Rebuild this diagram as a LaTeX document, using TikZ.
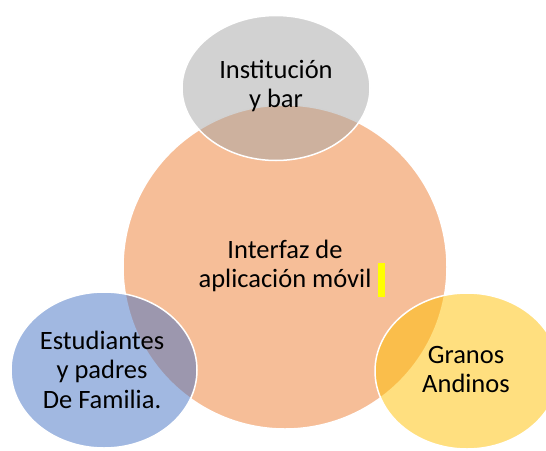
\documentclass[tikz,border=0pt]{standalone}
\usepackage{fontspec}
\setmainfont{Carlito}
\usetikzlibrary{shapes.geometric}
\definecolor{orangeA}{HTML}{ED7D31}
\definecolor{grayA}{HTML}{A5A5A5}
\definecolor{blueA}{HTML}{4472C4}
\definecolor{goldA}{HTML}{FFC000}
\definecolor{markY}{HTML}{FFFF00}
\begin{document}
\begin{tikzpicture}[x=1pt,y=-1pt,
  venn/.style={ellipse, draw=white, line width=1.5pt, fill opacity=0.5, inner sep=0pt},
  lbl/.style={align=center, font=\fontsize{26.5}{29.5}\selectfont, text=black, inner sep=0pt}]
\useasboundingbox (0,0) rectangle (546,450);
\node[venn, fill=orangeA, minimum width=324pt, minimum height=324pt] (app) at (285,267) {};
\node[venn, fill=grayA, minimum width=188pt, minimum height=145pt] (inst) at (276,88) {};
\node[venn, fill=blueA, minimum width=186pt, minimum height=156pt] (est) at (104,370) {};
\node[venn, fill=goldA, minimum width=184pt, minimum height=156pt] (gra) at (467,371) {};
\node[lbl] (tinst) at (276,86) {Institución\\y bar};
\node[lbl] (tapp) at (285,266) {Interfaz de\\aplicación móvil};
\node[lbl] (tgra) at (466,369.5) {Granos\\Andinos};
\node[lbl] (test) at (102,369.5) {Estudiantes\\y padres\\De Familia.};
\node[fill=markY, minimum width=7pt, minimum height=34pt, inner sep=0pt] (mark) at (381.5,280) {};
\end{tikzpicture}
\end{document}
